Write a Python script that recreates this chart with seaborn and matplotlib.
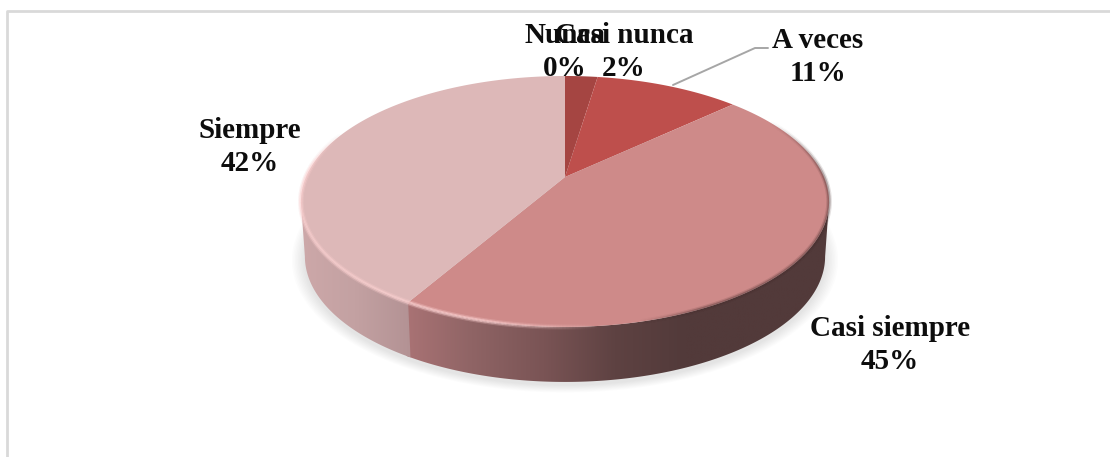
import numpy as np
import matplotlib
matplotlib.use('Agg')
import matplotlib.pyplot as plt
from matplotlib.collections import LineCollection
from matplotlib.colors import to_rgb
import seaborn as sns

# Data, in drawing order (clockwise from 12 o'clock)
categories = ['Nunca', 'Casi nunca', 'A veces', 'Casi siempre', 'Siempre']
shares = [0.0, 2.4, 10.7, 45.3, 41.6]
slice_colors = ['#A03F3D', '#A54542', '#BE4F4C', '#CE8A89', '#DDB8B8']
label_xy = [(565, 52), (624, 52), (818, 57), (890, 345), (250, 147)]

# Perspective of the pie, in pixels
APEX_X, APEX_Y = 565, 177
HALF_W, NEAR, TILT = 259, 120.7, 0.195
DEPTH = 55
BOTTOM_SCALE = 0.985


def project(angle_deg):
    '''Clockwise angle from the top of the pie to screen pixels.'''
    theta = np.radians(angle_deg)
    u, v = np.sin(theta), np.cos(theta)
    w = 1 + TILT * v
    return APEX_X + HALF_W * u / w, APEX_Y - NEAR * v / w


def drop(x, y):
    '''Same point on the lower edge of the pie.'''
    return APEX_X + (x - APEX_X) * BOTTOM_SCALE, y + DEPTH


sns.set_theme(style='white')
plt.rcParams['font.family'] = ['Liberation Serif', 'DejaVu Serif']

fig = plt.figure(figsize=(11.10, 4.57), dpi=100)
ax = fig.add_axes([0, 0, 1, 1])
ax.axis('off')

# Chart frame, cut off at the right and bottom of the picture
ax.plot([7, 7, 1110], [457, 11, 11], color='#D9D9D9', lw=2, zorder=1)

angles = np.linspace(0, 360, 1441)
rim_x, rim_y = project(angles)
right_i, left_i = np.argmax(rim_x), np.argmin(rim_x)
front = angles[right_i:left_i + 1]

# Soft shadow under the pie
low_x, low_y = drop(rim_x, rim_y)
for spread in np.arange(13, 0, -1.5):
    scale = 1 + spread / 261
    ax.fill(APEX_X + (low_x - APEX_X) * scale,
            low_y + 3 + (low_y - low_y.mean()) * (scale - 1) * 1.1,
            color='#808080', alpha=0.025, lw=0, zorder=2)

# Side wall, one horizontal ramp per visible slice
edges = np.cumsum([0] + shares) * 3.6
side_ramps = {
    'Casi siempre': (['#AC7476', '#8F6465', '#7A5455', '#5E4242', '#523A3A',
                      '#523A3A', '#523A3A'], 400, 830, 1.0),
    'Siempre': (['#CDA8A9', '#C3A1A2', '#B39294'], 300, 411, 0.0),
}
for i, name in enumerate(categories):
    if name not in side_ramps:
        continue
    stops, x0, x1, overlap = side_ramps[name]
    lo, hi = max(edges[i], front[0]), min(edges[i + 1] + overlap, front[-1])
    arc = np.linspace(lo, hi, 300)
    ax_, ay_ = project(arc)
    bx_, by_ = drop(ax_, ay_)
    poly = ax.fill(np.r_[ax_, bx_[::-1]], np.r_[ay_, by_[::-1]], lw=0,
                   zorder=3)[0]
    poly.set_visible(False)
    cmap = sns.blend_palette(stops, as_cmap=True)
    img = ax.imshow(np.linspace(0, 1, 256)[None, :], cmap=cmap, aspect='auto',
                    extent=(x0, x1, 390, 190), zorder=3 + i / 100)
    img.set_clip_path(poly)

# Top face
for i, color in enumerate(slice_colors):
    if shares[i] == 0:
        continue
    arc = np.linspace(edges[i], edges[i + 1], 400)
    ax_, ay_ = project(arc)
    ax.fill(np.r_[APEX_X, ax_], np.r_[APEX_Y, ay_], color=color, lw=0,
            zorder=4)

# Bevel along the rim: pale on the left, dark on the right
bevel_angles = np.linspace(60, 292, 900)
bx_, by_ = project(bevel_angles)
points = np.column_stack([bx_, by_]).reshape(-1, 1, 2)
segments = np.concatenate([points[:-1], points[1:]], axis=1)
mid_x = (bx_[:-1] + bx_[1:]) / 2
mid_angle = (bevel_angles[:-1] + bevel_angles[1:]) / 2
pale = np.array(to_rgb('#FBD0D0'))
dark = np.array(to_rgb('#4A3030'))
rgba = np.zeros((len(mid_x), 4))
for k, x in enumerate(mid_x):
    if x < 600:
        rgba[k, :3] = pale
        rgba[k, 3] = np.clip((600 - x) / 130, 0, 0.9)
    else:
        rgba[k, :3] = dark
        rgba[k, 3] = np.clip((x - 640) / 120, 0, 0.5)
rgba[:, 3] *= np.clip((mid_angle - 60) / 30, 0, 1)
rgba[:, 3] *= np.clip((292 - mid_angle) / 20, 0, 1)
for width, fade in [(4.0, 0.3), (2.2, 0.7)]:
    faded = rgba.copy()
    faded[:, 3] *= fade
    ax.add_collection(LineCollection(segments, colors=faded, linewidths=width,
                                     capstyle='butt', zorder=5))

# Leader line of "A veces"
ax.plot([673, 755, 768], [85, 48, 48], color='#A6A6A6', lw=1.4, zorder=6)

# Data labels, the two on top overlap in the original as well
for name, share, (x, y) in zip(categories, shares, label_xy):
    ax.text(x, y, f'{name}\n{share:.0f}%', ha='center', va='center',
            fontsize=21, fontweight='bold', color='#0D0D0D', linespacing=1.3,
            zorder=7)

ax.set_xlim(0, 1110)
ax.set_ylim(457, 0)
fig.savefig('out.png', dpi=100)
